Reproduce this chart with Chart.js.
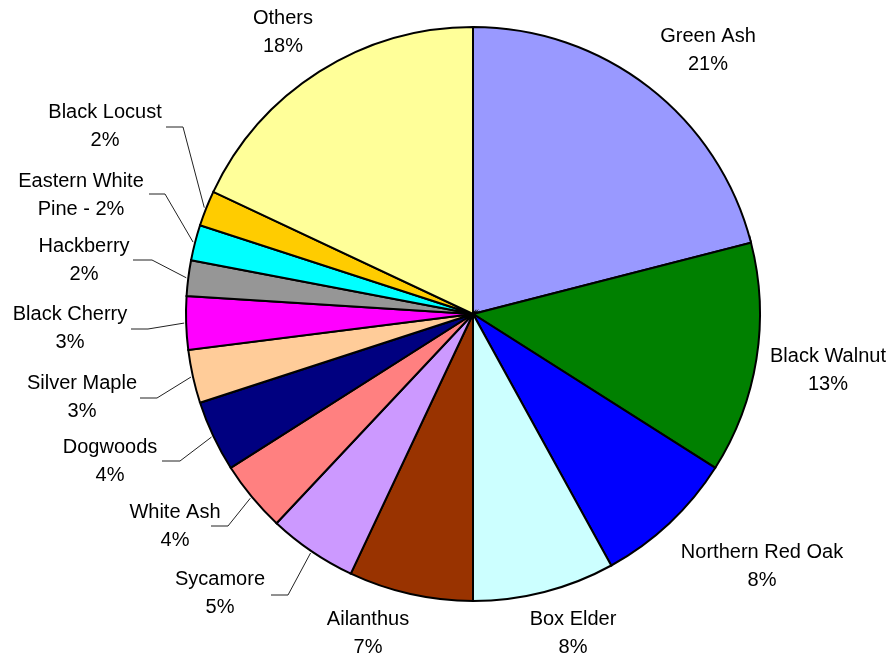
<!DOCTYPE html>
<html>
<head>
<meta charset="utf-8">
<title>Tree species</title>
<script src="https://cdn.jsdelivr.net/npm/chart.js@4/dist/chart.umd.min.js"></script>
<style>
	html, body { margin: 0; padding: 0; background: #fff; }
	#wrap { width: 895px; height: 660px; }
</style>
</head>
<body>
<div id="wrap"><canvas id="pie" width="895" height="660"></canvas></div>
<script>
// species and their share (percent)
const species = ['Green Ash', 'Black Walnut', 'Northern Red Oak', 'Box Elder', 'Ailanthus', 'Sycamore',
	'White Ash', 'Dogwoods', 'Silver Maple', 'Black Cherry', 'Hackberry', 'Eastern White\nPine', 'Black Locust', 'Others'];
const shares = [21, 13, 8, 8, 7, 5, 4, 4, 3, 3, 2, 2, 2, 18];
const sliceColors = ['#9999FF', '#008000', '#0000FF', '#CCFFFF', '#993300', '#CC99FF',
	'#FF8080', '#000080', '#FFCC99', '#FF00FF', '#969696', '#00FFFF', '#FFCC00', '#FFFF99'];

// where each label sits (text centre x, first line y) and, for the crowded ones,
// the elbow of the leader line: [elbowX, elbowY, endX]
const labelLayout = [
	{ x: 708, y: 36 },
	{ x: 828, y: 356 },
	{ x: 762, y: 552 },
	{ x: 573, y: 619 },
	{ x: 368, y: 619 },
	{ x: 220, y: 579, leader: [288, 595, 271] },
	{ x: 175, y: 512, leader: [228, 526, 211] },
	{ x: 110, y: 447, leader: [180, 461, 162] },
	{ x: 82, y: 383, leader: [157, 398, 140] },
	{ x: 70, y: 314, leader: [148, 329, 131] },
	{ x: 84, y: 246, leader: [152, 260, 133] },
	{ x: 81, y: 181, leader: [165, 194, 149], inline: true },
	{ x: 105, y: 112, leader: [183, 127, 166] },
	{ x: 283, y: 18 }
];

const lineGap = 28;

// draws the name / percent labels and the leader lines
const sliceLabels = {
	id: 'sliceLabels',
	afterDatasetsDraw(chart) {
		const ctx = chart.ctx;
		const arcs = chart.getDatasetMeta(0).data;
		ctx.save();
		ctx.font = '20px "Liberation Sans", Arial, sans-serif';
		ctx.fillStyle = '#000';
		ctx.textAlign = 'center';
		ctx.textBaseline = 'middle';

		arcs.forEach((arc, i) => {
			const lay = labelLayout[i];
			const pct = shares[i] + '%';
			let lines = species[i].split('\n');
			if (lay.inline) {
				lines[lines.length - 1] += ' - ' + pct;
			} else {
				lines.push(pct);
			}

			if (lay.leader) {
				const { x, y, startAngle, endAngle, outerRadius } = arc.getProps(['x', 'y', 'startAngle', 'endAngle', 'outerRadius'], true);
				const mid = (startAngle + endAngle) / 2;
				const r = outerRadius + 2;
				ctx.beginPath();
				ctx.strokeStyle = '#222';
				ctx.lineWidth = 1;
				ctx.moveTo(x + Math.cos(mid) * r, y + Math.sin(mid) * r);
				ctx.lineTo(lay.leader[0], lay.leader[1]);
				ctx.lineTo(lay.leader[2], lay.leader[1]);
				ctx.stroke();
			}

			lines.forEach((txt, k) => {
				ctx.fillText(txt, lay.x, lay.y + k * lineGap);
			});
		});
		ctx.restore();
	}
};

new Chart(document.getElementById('pie'), {
	type: 'pie',
	data: {
		labels: species,
		datasets: [{
			data: shares,
			backgroundColor: sliceColors,
			borderColor: '#000',
			borderWidth: 2,
			borderJoinStyle: 'miter'
		}]
	},
	options: {
		responsive: false,
		animation: false,
		radius: 287,
		layout: { padding: { left: 80, right: 29, top: 10, bottom: 42 } },
		plugins: {
			legend: { display: false },
			tooltip: { enabled: false }
		}
	},
	plugins: [sliceLabels]
});
</script>
</body>
</html>
